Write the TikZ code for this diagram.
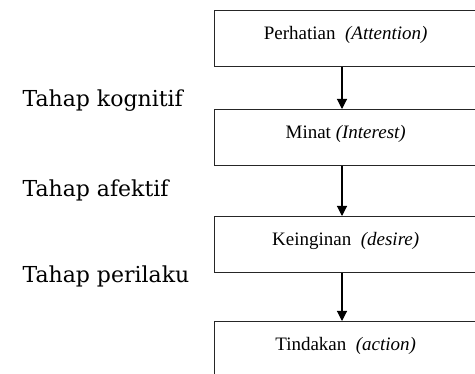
\documentclass[tikz,border=0pt]{standalone}
\usepackage{fontspec}
\setmainfont{Liberation Serif}
\newfontfamily\levelfont{DejaVu Serif}
\usetikzlibrary{arrows.meta}
\tikzset{
  stage/.style={draw=black!85, line width=1.4pt, minimum width=262pt, minimum height=56pt,
    text height=14pt, text depth=12pt, anchor=north west,
    font=\fontsize{19}{22}\selectfont},
  level/.style={anchor=base west, font=\levelfont\fontsize{22}{26}\selectfont},
  flow/.style={-{Triangle[length=10pt,width=10pt]}, line width=1.1pt}
}
\begin{document}
\begin{tikzpicture}[x=1pt,y=-1pt]
  \useasboundingbox (0,0) rectangle (475,374);
  \node[stage] (att) at (214,10) {Perhatian \ \textit{(Attention)}};
  \node[stage] (int) at (214,109) {Minat \textit{(Interest)}};
  \node[stage] (des) at (214,216) {Keinginan \ \textit{(desire)}};
  \node[stage] (act) at (214,321) {Tindakan \ \textit{(action)}};
  \node[level] (kog) at (19,107) {Tahap kognitif};
  \node[level] (afe) at (19,197) {Tahap afektif};
  \node[level] (per) at (19,283) {Tahap perilaku};
  \begin{scope}[flow]
    \draw ([xshift=128pt]att.south west) -- ([xshift=128pt]int.north west);
    \draw ([xshift=128pt]int.south west) -- ([xshift=128pt]des.north west);
    \draw ([xshift=128pt]des.south west) -- ([xshift=128pt]act.north west);
  \end{scope}
\end{tikzpicture}
\end{document}
